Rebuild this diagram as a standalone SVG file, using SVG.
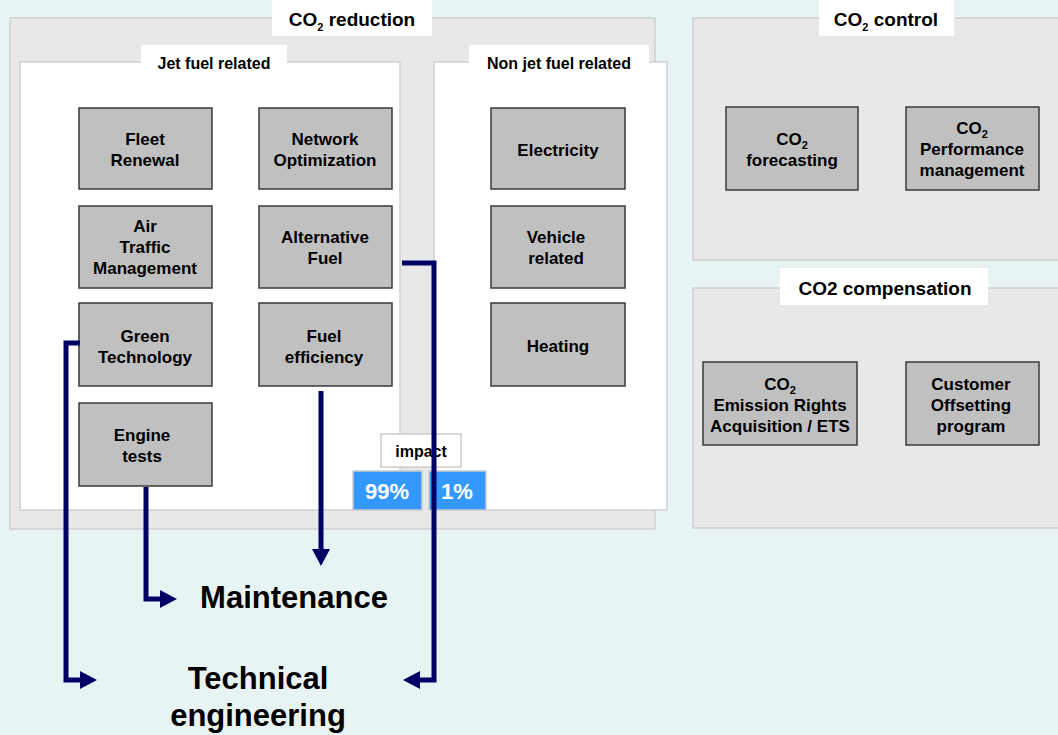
<svg xmlns="http://www.w3.org/2000/svg" width="1058" height="735" viewBox="0 0 1058 735">
  <defs>
    <marker id="head" viewBox="0 0 17 18" markerWidth="17" markerHeight="18" refX="0" refY="9" orient="auto" markerUnits="userSpaceOnUse">
      <path d="M0,0 L17,9 L0,18 z" fill="#000066"/>
    </marker>
  </defs>
  <style>
    text { font-family: "Liberation Sans", Arial, sans-serif; font-weight: bold; fill: #000; text-anchor: middle; }
    .panel { fill: #e8e8e8; stroke: #d0d0d0; stroke-width: 1.5; }
    .sub { fill: #ffffff; stroke: #d0d0d0; stroke-width: 1.5; }
    .tag { fill: #ffffff; stroke: none; }
    .title { font-size: 19px; }
    .subtitle { font-size: 16px; }
    .node rect { fill: #c0c0c0; stroke: #3a3a3a; stroke-width: 1.5; }
    .node text { font-size: 17px; }
    .s { font-size: 11px; }
    .impact { fill: #ffffff; stroke: #cccccc; stroke-width: 1.5; }
    .pct { fill: #3399ff; stroke: #cccccc; stroke-width: 1.5; }
    .pcttext { font-size: 22px; fill: #ffffff; }
    .conn { fill: none; stroke: #000066; stroke-width: 5; stroke-linejoin: miter; marker-end: url(#head); }
    .target { font-size: 31px; }
  </style>

  <rect x="0" y="0" width="1058" height="735" fill="#e8f4f4"/>

  <!-- CO2 reduction panel -->
  <g id="co2-reduction">
    <rect class="panel" x="10" y="18" width="645" height="511"/>
    <rect class="tag" x="272" y="0" width="160" height="36"/>
    <text class="title" x="352" y="26">CO<tspan class="s" dy="5">2</tspan><tspan dy="-5"> reduction</tspan></text>
  </g>

  <g id="jet-fuel-related">
    <rect class="sub" x="20" y="62" width="380" height="448"/>
    <rect class="tag" x="141" y="45" width="146" height="30"/>
    <text class="subtitle" x="214" y="69">Jet fuel related</text>
  </g>

  <g id="non-jet-fuel-related">
    <rect class="sub" x="434" y="62" width="233" height="448"/>
    <rect class="tag" x="469" y="45" width="180" height="30"/>
    <text class="subtitle" x="559" y="69">Non jet fuel related</text>
  </g>

  <!-- CO2 control panel -->
  <g id="co2-control">
    <rect class="panel" x="693" y="18" width="380" height="242"/>
    <rect class="tag" x="819" y="0" width="135" height="36"/>
    <text class="title" x="886" y="26">CO<tspan class="s" dy="5">2</tspan><tspan dy="-5"> control</tspan></text>
  </g>

  <!-- CO2 compensation panel -->
  <g id="co2-compensation">
    <rect class="panel" x="693" y="288" width="380" height="240"/>
    <rect class="tag" x="780" y="268" width="208" height="37"/>
    <text class="title" x="885" y="295">CO2 compensation</text>
  </g>

  <!-- Jet fuel measures -->
  <g id="fleet-renewal" class="node">
    <rect x="79" y="108" width="133" height="81"/>
    <text x="145" y="145">Fleet</text>
    <text x="145" y="166">Renewal</text>
  </g>
  <g id="network-optimization" class="node">
    <rect x="259" y="108" width="133" height="81"/>
    <text x="325" y="145">Network</text>
    <text x="325" y="166">Optimization</text>
  </g>
  <g id="air-traffic-management" class="node">
    <rect x="79" y="206" width="133" height="82"/>
    <text x="145" y="232">Air</text>
    <text x="145" y="253">Traffic</text>
    <text x="145" y="274">Management</text>
  </g>
  <g id="alternative-fuel" class="node">
    <rect x="259" y="206" width="133" height="82"/>
    <text x="325" y="243">Alternative</text>
    <text x="325" y="264">Fuel</text>
  </g>
  <g id="green-technology" class="node">
    <rect x="79" y="303" width="133" height="83"/>
    <text x="145" y="342">Green</text>
    <text x="145" y="363">Technology</text>
  </g>
  <g id="fuel-efficiency" class="node">
    <rect x="259" y="303" width="133" height="83"/>
    <text x="324" y="342">Fuel</text>
    <text x="324" y="363">efficiency</text>
  </g>
  <g id="engine-tests" class="node">
    <rect x="79" y="403" width="133" height="83"/>
    <text x="142" y="441">Engine</text>
    <text x="142" y="462">tests</text>
  </g>

  <!-- Non jet fuel measures -->
  <g id="electricity" class="node">
    <rect x="491" y="108" width="134" height="81"/>
    <text x="558" y="156">Electricity</text>
  </g>
  <g id="vehicle-related" class="node">
    <rect x="491" y="206" width="134" height="82"/>
    <text x="556" y="243">Vehicle</text>
    <text x="556" y="264">related</text>
  </g>
  <g id="heating" class="node">
    <rect x="491" y="303" width="134" height="83"/>
    <text x="558" y="352">Heating</text>
  </g>

  <!-- Control measures -->
  <g id="co2-forecasting" class="node">
    <rect x="726" y="107" width="132" height="83"/>
    <text x="792" y="145">CO<tspan class="s" dy="4">2</tspan></text>
    <text x="792" y="166">forecasting</text>
  </g>
  <g id="co2-performance-management" class="node">
    <rect x="906" y="107" width="133" height="83"/>
    <text x="972" y="134">CO<tspan class="s" dy="4">2</tspan></text>
    <text x="972" y="155">Performance</text>
    <text x="972" y="176">management</text>
  </g>

  <!-- Compensation measures -->
  <g id="co2-emission-rights" class="node">
    <rect x="703" y="362" width="154" height="83"/>
    <text x="780" y="390">CO<tspan class="s" dy="4">2</tspan></text>
    <text x="780" y="411">Emission Rights</text>
    <text x="780" y="432">Acquisition / ETS</text>
  </g>
  <g id="customer-offsetting" class="node">
    <rect x="906" y="362" width="133" height="83"/>
    <text x="971" y="390">Customer</text>
    <text x="971" y="411">Offsetting</text>
    <text x="971" y="432">program</text>
  </g>

  <!-- Impact split -->
  <g id="impact">
    <rect class="impact" x="381" y="434" width="80" height="33"/>
    <text x="421" y="457" style="font-size:16px">impact</text>
    <rect class="pct" x="353" y="471" width="69" height="39"/>
    <text class="pcttext" x="387" y="499">99%</text>
    <rect class="pct" x="429" y="471" width="57" height="39"/>
    <text class="pcttext" x="457" y="499">1%</text>
  </g>

  <!-- Connectors -->
  <g id="connectors">
    <path class="conn" d="M80,343 H66 V680 H80"/>
    <path class="conn" d="M146,487 V599 H160"/>
    <path class="conn" d="M321,391 V549"/>
    <path class="conn" d="M402,263 H434 V680 H420"/>
  </g>

  <!-- Target functions -->
  <g id="maintenance">
    <text class="target" x="294" y="608">Maintenance</text>
  </g>
  <g id="technical-engineering">
    <text class="target" x="258" y="689">Technical</text>
    <text class="target" x="258" y="726">engineering</text>
  </g>
</svg>
